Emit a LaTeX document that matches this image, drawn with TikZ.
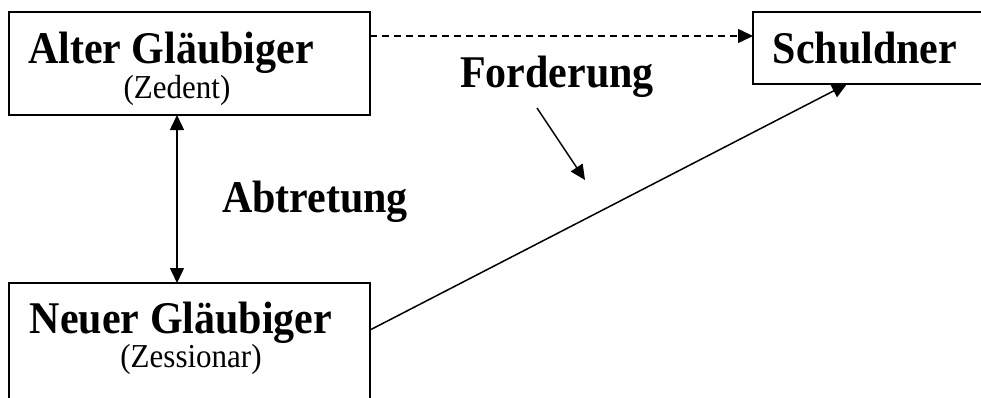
\documentclass[tikz,border=0pt]{standalone}
\usepackage{fontspec}
\setmainfont{Liberation Serif}
\usetikzlibrary{arrows.meta}
\newcommand{\tallt}[1]{\scalebox{1}[1.08]{#1}}
\begin{document}
\begin{tikzpicture}[x=1pt,y=-1pt,
  box/.style={draw,line width=1.5pt,rectangle,inner sep=0pt},
  big/.style={font=\fontsize{42}{46}\selectfont\bfseries,anchor=base,inner sep=0pt},
  small/.style={font=\fontsize{31}{34}\selectfont,anchor=base,inner sep=0pt},
  conn/.style={line width=1.5pt,-{Triangle[length=15pt,width=14pt]}},
  dconn/.style={line width=1.5pt,{Triangle[length=15pt,width=14pt]}-{Triangle[length=15pt,width=14pt]}}]
\useasboundingbox (0,0) rectangle (981,397);
\clip (0,0) rectangle (981,397);
% boxes
\node[box,minimum width=361pt,minimum height=103pt] (alt) at (189.5,63.5) {};
\node[box,minimum width=240pt,minimum height=72pt] (sch) at (873,48) {};
\node[box,minimum width=361pt,minimum height=140pt] (neu) at (189.5,353) {};
% texts
\node[big] (altT) at (171,63) {\tallt{Alter Gläubiger}};
\node[small] (altS) at (177,98) {\tallt{(Zedent)}};
\node[big] (schT) at (865,63) {\tallt{Schuldner}};
\node[big] (neuT) at (181,333) {\tallt{Neuer Gläubiger}};
\node[small] (neuS) at (191,367) {\tallt{(Zessionar)}};
\node[big] (ford) at (557,87) {\tallt{Forderung}};
\node[big] (abt) at (315,212) {\tallt{Abtretung}};
% connectors
\coordinate (a1) at (370,36);
\coordinate (s1) at (753,36);
\draw[conn,dash pattern=on 7pt off 5pt] (a1) -- (s1);
\coordinate (a2) at (177,115);
\coordinate (n2) at (177,283);
\draw[dconn] (a2) -- (n2);
\coordinate (n3) at (370,330);
\coordinate (s3) at (847,84);
\draw[conn] (n3) -- (s3);
\coordinate (f1) at (537,108);
\coordinate (f2) at (585,180);
\draw[conn] (f1) -- (f2);
\end{tikzpicture}
\end{document}
